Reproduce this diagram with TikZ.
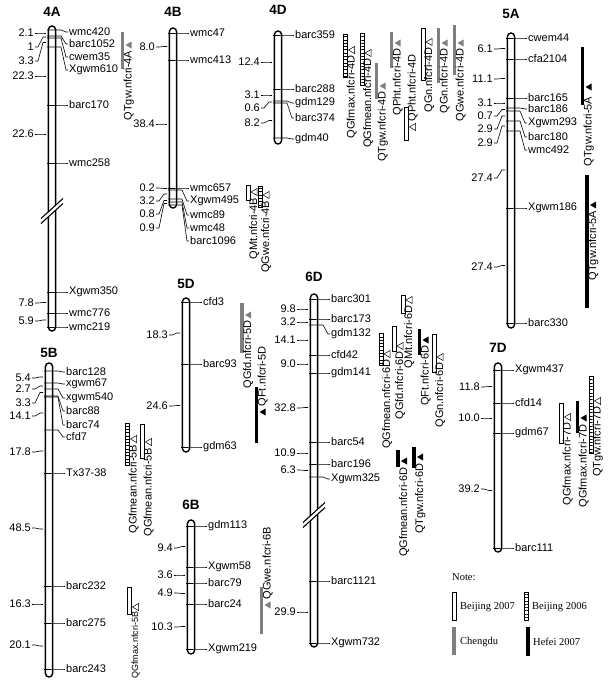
\documentclass[tikz,border=0pt]{standalone}
\usepackage{fontspec}
\newfontfamily\arialf{Liberation Sans}
\newfontfamily\timesf{Liberation Serif}
\usetikzlibrary{patterns.meta}
\definecolor{chengdu}{HTML}{7F7F7F}
\tikzset{
  chrom/.style={draw=black, line width=1.4pt, fill=white, rounded corners=3.6pt},
  mline/.style={draw=black, line width=0.6pt},
  mlabel/.style={font=\arialf\fontsize{11}{13}\selectfont, anchor=west, inner sep=1pt},
  dlabel/.style={font=\arialf\fontsize{11}{13}\selectfont, anchor=east, inner sep=1pt},
  ctitle/.style={font=\arialf\bfseries\fontsize{13.5}{15}\selectfont},
  qlabel/.style={font=\arialf\fontsize{11}{13}\selectfont, rotate=90, inner sep=0.5pt},
  legtext/.style={font=\timesf\fontsize{10.5}{12}\selectfont, anchor=west, inner sep=1pt},
  bj07/.style={draw=black, line width=0.6pt, fill=white},
  bj06/.style={draw=black, line width=0.6pt, fill=white,
               postaction={pattern={Lines[angle=0, distance=3.3pt, line width=0.5pt]}}},
  cd/.style={fill=chengdu},
  hf/.style={fill=black},
  bj07tri/.style={draw=black, line width=0.5pt, fill=white},
  bj06tri/.style={draw=black, line width=0.5pt, fill=white},
  cdtri/.style={fill=chengdu},
  hftri/.style={fill=black},
  brkline/.style={line width=1.1pt}
}
% chromosome bar and its title: name, x, top, bottom, title y, title
\newcommand{\chr}[6]{%
  \draw[chrom] (#2-3.6,#3) rectangle (#2+3.6,#4);
  \node[ctitle] (#1) at (#2,#5) {#6};}
% marker: chromosome x, marker y, label y, name, text
\newcommand{\mk}[5]{%
  \node[mlabel] (#4) at (#1+16,#3) {#5};
  \draw[mline] (#1-5,#2) -- (#1+9,#2) -- (#1+14,#3) -- (#4.west);}
% interval distance: chromosome x, interval mid y, label y, name, text
\newcommand{\dst}[5]{%
  \node[dlabel] (#4) at (#1-17,#3) {#5};
  \draw[mline] (#4.east) -- (#1-14,#3) -- (#1-9,#2) -- (#1-6,#2);}
% break in a chromosome
\newcommand{\brk}[2]{%
  \fill[white] (#1-11,#2+7.5) -- (#1+11,#2-12.5) -- (#1+11,#2-7.5) -- (#1-11,#2+12.5) -- cycle;
  \draw[brkline] (#1-11,#2+7.5) -- (#1+11,#2-12.5);
  \draw[brkline] (#1-11,#2+12.5) -- (#1+11,#2-7.5);}
% qtl: name, x, top, bottom, trial, peak y, text, label y, anchor
\newcommand{\qtl}[9]{%
  \path[#5] (#2-1.8,#3) rectangle (#2+1.8,#4);
  \path[#5tri] (#2+3,#6) -- ++(6,-3.5) -- ++(0,7) -- cycle;
  \node[qlabel, anchor=#9] (#1) at (#2+6.2,#8) {#7};}

\begin{document}
\begin{tikzpicture}[x=1pt, y=-1pt]
\useasboundingbox (0,0) rectangle (608,680);
\fill[white] (0,0) rectangle (608,680);

% 4A
\chr{c4A}{52}{26}{331}{11.5}{4A}
\brk{52}{211}
\foreach \m/\l/\t [count=\i] in {30/32/wmc420, 36/44/barc1052, 38/57/cwem35, 47/70/Xgwm610,
    105/105/barc170, 163/163/wmc258, 292/292/Xgwm350, 313/313/wmc776, 327/327/wmc219}
  \mk{52}{\m}{\l}{m4A\i}{\t};
\foreach \m/\l/\t [count=\i] in {33/33/2.1, 37/47/1, 42.5/61/3.3, 76/76/22.3, 134/134/22.6,
    302.5/303/7.8, 320/321/5.9}
  \dst{52}{\m}{\l}{d4A\i}{\t};

% 4B
\chr{c4B}{173}{28}{208}{11.5}{4B}
\foreach \m/\l/\t [count=\i] in {33/33/wmc47, 60/60/wmc413, 188/188/wmc657, 190/201/Xgwm495,
    199/215/wmc89, 202/228/wmc48, 205/241/barc1096}
  \mk{173}{\m}{\l}{m4B\i}{\t};
\foreach \m/\l/\t [count=\i] in {46.5/47/8.0, 124/124/38.4, 188.5/188/0.2, 194/201/3.2,
    200.5/214/0.8, 203.5/228/0.9}
  \dst{173}{\m}{\l}{d4B\i}{\t};

% 4D
\chr{c4D}{278}{31}{144}{10}{4D}
\foreach \m/\l/\t [count=\i] in {35/35/barc359, 89/89/barc288, 101/103/gdm129, 103/118/barc374,
    138/139/gdm40}
  \mk{278}{\m}{\l}{m4D\i}{\t};
\foreach \m/\l/\t [count=\i] in {62/62/12.4, 95/95/3.1, 102/108/0.6, 120.5/123/8.2}
  \dst{278}{\m}{\l}{d4D\i}{\t};

% 5A
\chr{c5A}{511}{33}{328}{13.5}{5A}
\foreach \m/\l/\t [count=\i] in {38/38/cwem44, 59/59/cfa2104, 98/98/barc165, 108/109/barc186,
    111/123/Xgwm293, 121/137/barc180, 131/150/wmc492, 208/208/Xgwm186, 323/323/barc330}
  \mk{511}{\m}{\l}{m5A\i}{\t};
\foreach \m/\l/\t [count=\i] in {48.5/49/6.1, 78.5/79/11.1, 103/103/3.1, 109.5/116/0.7,
    116/129/2.9, 126/143/2.9, 170/178/27.4, 265.5/267/27.4}
  \dst{511}{\m}{\l}{d5A\i}{\t};

% 5B
\chr{c5B}{49}{363}{677}{353}{5B}
\foreach \m/\l/\t [count=\i] in {371/372/barc128, 383/384/xgwm67, 389/398/xgwm540, 396/411/barc88,
    397/425/barc74, 430/437/cfd7, 473/473/Tx37-38, 586/586/barc232, 623/623/barc275, 669/669/barc243}
  \mk{49}{\m}{\l}{m5B\i}{\t};
\foreach \m/\l/\t [count=\i] in {377/378/5.4, 386/389/2.7, 392.5/403/3.3, 413/416/14.1,
    451/452/17.8, 529/528/48.5, 604/604/16.3, 646/645/20.1}
  \dst{49}{\m}{\l}{d5B\i}{\t};

% 5D
\chr{c5D}{186}{298}{452}{284}{5D}
\foreach \m/\l/\t [count=\i] in {302/302/cfd3, 364/364/barc93, 447/447/gdm63}
  \mk{186}{\m}{\l}{m5D\i}{\t};
\foreach \m/\l/\t [count=\i] in {333/335/18.3, 405.5/406/24.6}
  \dst{186}{\m}{\l}{d5D\i}{\t};

% 6B
\chr{c6B}{191}{520}{654}{505}{6B}
\foreach \m/\l/\t [count=\i] in {526/526/gdm113, 567/567/Xgwm58, 583/583/barc79, 604/604/barc24,
    649/649/Xgwm219}
  \mk{191}{\m}{\l}{m6B\i}{\t};
\foreach \m/\l/\t [count=\i] in {546.5/548/9.4, 575/575/3.6, 593.5/593/4.9, 626.5/627/10.3}
  \dst{191}{\m}{\l}{d6B\i}{\t};

% 6D
\chr{c6D}{314}{294}{647}{277}{6D}
\brk{314}{515}
\foreach \m/\l/\t [count=\i] in {299/299/barc301, 319/319/barc173, 325/334/gdm132, 355/355/cfd42,
    373/373/gdm141, 442/442/barc54, 464/464/barc196, 477/479/Xgwm325, 581/581/barc1121, 643/643/Xgwm732}
  \mk{314}{\m}{\l}{m6D\i}{\t};
\foreach \m/\l/\t [count=\i] in {309/309/9.8, 322/322/3.2, 340/340/14.1, 364/364/9.0,
    407.5/408/32.8, 453/453/10.9, 470.5/470/6.3, 612/612/29.9}
  \dst{314}{\m}{\l}{d6D\i}{\t};

% 7D
\chr{c7D}{498}{363}{552}{348}{7D}
\foreach \m/\l/\t [count=\i] in {370/370/Xgwm437, 403/403/cfd14, 433/433/gdm67, 548/548/barc111}
  \mk{498}{\m}{\l}{m7D\i}{\t};
\foreach \m/\l/\t [count=\i] in {386.5/387/11.8, 418/418/10.0, 490.5/489/39.2}
  \dst{498}{\m}{\l}{d7D\i}{\t};

% QTL intervals
\qtl{qTgw4A}{122.5}{32}{69}{cd}{45}{QTgw.nfcri-4A}{50}{east}
\qtl{qMt4B}{248}{185}{200}{bj07}{192}{QMt.nfcri-4B}{197}{east}
\qtl{qGwe4B}{260}{186}{207}{bj06}{195}{QGwe.nfcri-4B}{200}{east}
\qtl{qGfmax4D}{345.5}{34}{77}{bj06}{50}{QGfmax.nfcri-4D}{55}{east}
\qtl{qGfmean4D}{362}{33}{85}{bj06}{53}{QGfmean.nfcri-4D}{58}{east}
\qtl{qTgw4D}{376.5}{63}{99}{cd}{86}{QTgw.nfcri-4D}{91}{east}
\qtl{qPhtA4D}{391.5}{32}{68}{cd}{43}{QPht.nfcri-4D}{48}{east}
\qtl{qPhtB4D}{406.5}{107}{140}{bj07}{127}{QPht.nfcri-4D}{122}{west}
\qtl{qGnA4D}{423}{28}{80}{bj07}{42}{QGn.nfcri-4D}{47}{east}
\qtl{qGnB4D}{438.5}{28}{83}{cd}{43}{QGn.nfcri-4D}{48}{east}
\qtl{qGwe4D}{454.5}{25}{75}{cd}{43}{QGwe.nfcri-4D}{48}{east}
\qtl{qTgwA5A}{582.5}{47}{105}{hf}{87}{QTgw.nfcri-5A}{96}{east}
\qtl{qTgwB5A}{587}{175}{308}{hf}{205}{QTgw.nfcri-5A}{210}{east}
\qtl{qGfmeanA5B}{127.5}{423}{465}{bj06}{439}{QGfmean.nfcri-5B}{444}{east}
\qtl{qGfmeanB5B}{142.5}{424}{458}{bj07}{442}{QGfmean.nfcri-5B}{447}{east}
\qtl{qGfmax5B}{129.5}{587}{614}{bj07}{607}{\fontsize{9}{11}\selectfont QGfmax.nfcri-5B}{611}{east}
\qtl{qGfd5D}{242}{303}{353}{cd}{315}{QGfd.nfcri-5D}{320}{east}
\qtl{qFt5D}{256.5}{387}{443}{hf}{412}{QFt.nfcri-5D}{407}{west}
\qtl{qGwe6B}{261.5}{587}{634}{cd}{605}{QGwe.nfcri-6B}{600}{west}
\qtl{qGfmeanA6D}{381}{333}{365}{bj06}{354}{QGfmean.nfcri-6D}{359}{east}
\qtl{qGfd6D}{394}{326}{351}{bj07}{346}{QGfd.nfcri-6D}{351}{east}
\qtl{qMt6D}{403}{295}{313}{bj07}{300}{QMt.nfcri-6D}{305}{east}
\qtl{qFt6D}{419.5}{329}{355}{hf}{340}{QFt.nfcri-6D}{345}{east}
\qtl{qGn6D}{434}{334}{372}{bj07}{357}{QGn.nfcri-6D}{362}{east}
\qtl{qGfmeanB6D}{398}{450}{467}{hf}{461}{QGfmean.nfcri-6D}{467}{east}
\qtl{qTgw6D}{414}{447}{468}{hf}{457}{QTgw.nfcri-6D}{463}{east}
\qtl{qGfmaxA7D}{561.5}{403}{443}{bj07}{417}{QGfmax.nfcri-7D}{422}{east}
\qtl{qGfmaxB7D}{577.5}{401}{433}{hf}{418}{QGfmax.nfcri-7D}{424}{east}
\qtl{qTgw7D}{591.5}{376}{453}{bj06}{401}{QTgw.nfcri-7D}{406}{east}

% legend
\node[legtext] (note) at (451,577) {Note:};
\path[bj07] (452,592) rectangle (456,620);
\node[legtext] (bj07txt) at (459,607) {Beijing 2007};
\path[bj06] (524,592) rectangle (528,620);
\node[legtext] (bj06txt) at (531,607) {Beijing 2006};
\path[cd] (452,627) rectangle (456,655);
\node[legtext] (cdtxt) at (459,642) {Chengdu};
\path[hf] (526,627) rectangle (530,656);
\node[legtext] (hftxt) at (532,642) {Hefei 2007};
\end{tikzpicture}
\end{document}
